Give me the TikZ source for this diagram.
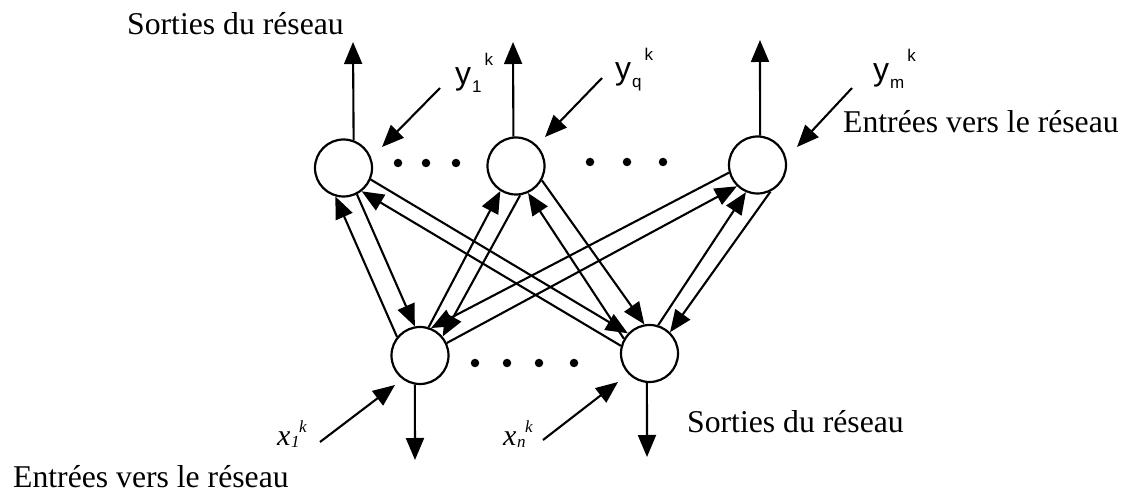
\documentclass[tikz,border=0pt]{standalone}
\usepackage{fontspec}
\setmainfont{Liberation Serif}
\newfontfamily\labsans{Liberation Sans}
\usetikzlibrary{arrows.meta}
\newcommand{\Ylab}[2]{{\labsans\fontsize{32bp}{34bp}\selectfont y}\kern1bp\raisebox{-8bp}{\labsans\fontsize{17bp}{18bp}\selectfont #1}\kern3bp\raisebox{19bp}{\labsans\fontsize{17bp}{18bp}\selectfont #2}}
\newcommand{\Xlab}[2]{{\itshape\fontsize{30bp}{32bp}\selectfont x}\kern0.5bp\raisebox{-2bp}{\itshape\fontsize{17bp}{18bp}\selectfont #1}\kern-0.5bp\raisebox{13bp}{\itshape\fontsize{17bp}{18bp}\selectfont #2}}
\tikzset{
  neuron/.style={circle,draw,line width=2.2bp,minimum size=57bp,inner sep=0pt},
  dotn/.style={circle,fill,minimum size=8.5bp,inner sep=0pt},
  arr/.style={line width=2.1bp,-{Triangle[length=22bp,width=18bp]}},
  bigtxt/.style={anchor=base west,inner sep=0pt,font=\fontsize{31.7bp}{38bp}\selectfont},
  lab/.style={anchor=base west,inner sep=0pt},
}
\begin{document}
\begin{tikzpicture}[x=1bp,y=-1bp]
\path[use as bounding box] (0,0) rectangle (1134,502);
% neurons
\node[neuron] (T1) at (343.5,168) {};
\node[neuron] (T2) at (516,166) {};
\node[neuron] (T3) at (757.5,165) {};
\node[neuron] (B1) at (420,355.5) {};
\node[neuron] (B2) at (649.5,353.5) {};
% dots
\node[dotn] (d1) at (398,163) {};
\node[dotn] (d2) at (426,163) {};
\node[dotn] (d3) at (456,163) {};
\node[dotn] (d4) at (590,162) {};
\node[dotn] (d5) at (627,162) {};
\node[dotn] (d6) at (663,162) {};
\node[dotn] (e1) at (475,363) {};
\node[dotn] (e2) at (507,363) {};
\node[dotn] (e3) at (539,363) {};
\node[dotn] (e4) at (574,363) {};
% outputs
\coordinate (o1) at (353,42);
\coordinate (o2) at (513,42);
\coordinate (o3) at (760,40);
\coordinate (o4) at (415,460);
\coordinate (o5) at (647,457);
\draw[arr] (T1.70) -- (o1);
\draw[arr] (T2.95) -- (o2);
\draw[arr] (T3.85) -- (o3);
\draw[arr] (B1.-100) -- (o4);
\draw[arr] (B2.-95) -- (o5);
% inputs
\coordinate (i1) at (440,88);  \coordinate (j1) at (382,147);
\coordinate (i2) at (602,78);  \coordinate (j2) at (545,137);
\coordinate (i3) at (852,88);  \coordinate (j3) at (797,147);
\coordinate (i4) at (320,442); \coordinate (j4) at (395,385);
\coordinate (i5) at (543,440); \coordinate (j5) at (618,382);
\draw[arr] (i1) -- (j1);
\draw[arr] (i2) -- (j2);
\draw[arr] (i3) -- (j3);
\draw[arr] (i4) -- (j4);
\draw[arr] (i5) -- (j5);
% connections
\draw[arr] (B1.141) -- (T1.254);
\draw[arr] (T1.297) -- (B1.100);
\draw[arr] (T1.-23) -- (B2.137);
\draw[arr] (B2.165) -- (T1.-52);
\draw[arr] (B1.73) -- (T2.238);
\draw[arr] (T2.278) -- (B1.40);
\draw[arr] (T2.-29) -- (B2.100);
\draw[arr] (B2.150) -- (T2.-66);
\draw[arr] (T3.195) -- (B1.68);
\draw[arr] (B1.25) -- (T3.226);
\draw[arr] (B2.73) -- (T3.247);
\draw[arr] (T3.-64) -- (B2.46);
% texts
\node[bigtxt] (s1) at (127,35) {Sorties du réseau};
\node[bigtxt] (s2) at (843,133) {Entrées vers le réseau};
\node[bigtxt] (s3) at (687,432) {Sorties du réseau};
\node[bigtxt] (s4) at (13,487) {Entrées vers le réseau};
\node[lab] (ly1) at (455,85) {\Ylab{1}{k}};
\node[lab] (lyq) at (615,80) {\Ylab{q}{k}};
\node[lab] (lym) at (873,81) {\Ylab{m}{k}};
\node[lab] (lx1) at (277,445) {\Xlab{1}{k}};
\node[lab] (lxn) at (503,445) {\Xlab{n}{k}};
\end{tikzpicture}
\end{document}
